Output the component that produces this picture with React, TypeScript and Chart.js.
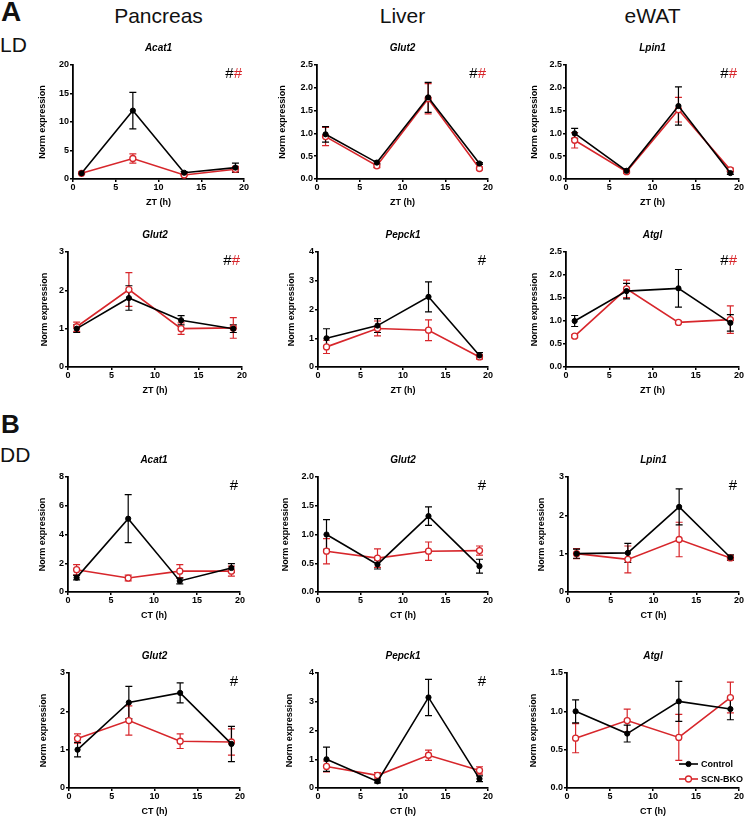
import React, { useEffect, useRef } from 'react';
import { Chart, registerables } from 'chart.js';

Chart.register(...registerables);

const FONT = "'Liberation Sans', Arial, Helvetica, sans-serif";
const BLACK = '#000000';
const RED = '#d7262b';

// ---------- data ----------
const TIMES = [1, 7, 13, 19];
const X_MIN = 0;
const X_MAX = 20;
const X_STEP = 5;

const TISSUES = ['Pancreas', 'Liver', 'eWAT'];
const SERIES_LABELS = ['Control', 'SCN-BKO'];
const PANEL_GENES = ['Acat1', 'Glut2', 'Lpin1', 'Glut2', 'Pepck1', 'Atgl', 'Acat1', 'Glut2', 'Lpin1', 'Glut2', 'Pepck1', 'Atgl'];
const PANEL_X_TITLES = ['ZT (h)', 'ZT (h)', 'ZT (h)', 'ZT (h)', 'ZT (h)', 'ZT (h)', 'CT (h)', 'CT (h)', 'CT (h)', 'CT (h)', 'CT (h)', 'CT (h)'];
const Y_TITLE = 'Norm expression';
const Y_MAX = [20, 2.5, 2.5, 3, 4, 2.5, 8, 2, 3, 3, 4, 1.5];
const Y_STEP = [5, 0.5, 0.5, 1, 1, 0.5, 2, 0.5, 1, 1, 1, 0.5];
const Y_DECIMALS = [0, 1, 1, 0, 0, 1, 0, 1, 0, 0, 0, 1];
const SIG_CONTROL = [true, true, true, true, true, true, true, true, true, true, true, false];
const SIG_BKO = [true, true, true, true, false, true, false, false, false, false, false, false];

const CONTROL_MEAN = [
  [1.0, 12.0, 1.1, 2.0],
  [0.98, 0.36, 1.79, 0.34],
  [1.0, 0.18, 1.6, 0.13],
  [1.0, 1.8, 1.22, 1.0],
  [1.0, 1.44, 2.44, 0.4],
  [1.0, 1.65, 1.71, 0.96],
  [1.0, 5.1, 0.77, 1.67],
  [1.0, 0.48, 1.32, 0.45],
  [1.0, 1.02, 2.22, 0.9],
  [1.0, 2.23, 2.48, 1.15],
  [1.0, 0.23, 3.15, 0.32],
  [1.0, 0.71, 1.13, 1.03],
];
const CONTROL_SEM = [
  [0.2, 3.2, 0.2, 0.8],
  [0.17, 0.03, 0.33, 0.02],
  [0.11, 0.04, 0.42, 0.03],
  [0.1, 0.32, 0.12, 0.1],
  [0.33, 0.24, 0.52, 0.1],
  [0.12, 0.17, 0.41, 0.18],
  [0.15, 1.67, 0.2, 0.3],
  [0.26, 0.08, 0.16, 0.12],
  [0.12, 0.25, 0.47, 0.07],
  [0.19, 0.42, 0.26, 0.46],
  [0.42, 0.05, 0.63, 0.1],
  [0.15, 0.11, 0.26, 0.14],
];
const BKO_MEAN = [
  [1.0, 3.6, 0.7, 1.7],
  [0.93, 0.29, 1.76, 0.23],
  [0.85, 0.16, 1.52, 0.2],
  [1.05, 2.02, 1.0, 1.02],
  [0.7, 1.34, 1.28, 0.35],
  [0.67, 1.7, 0.97, 1.03],
  [1.55, 0.97, 1.45, 1.45],
  [0.71, 0.59, 0.71, 0.72],
  [1.0, 0.85, 1.37, 0.89],
  [1.29, 1.76, 1.22, 1.2],
  [0.75, 0.44, 1.14, 0.61],
  [0.65, 0.88, 0.66, 1.18],
];
const BKO_SEM = [
  [0.1, 0.8, 0.1, 0.5],
  [0.2, 0.04, 0.33, 0.03],
  [0.17, 0.03, 0.27, 0.04],
  [0.12, 0.44, 0.15, 0.27],
  [0.23, 0.26, 0.36, 0.08],
  [0.03, 0.19, 0.03, 0.3],
  [0.35, 0.2, 0.45, 0.35],
  [0.22, 0.16, 0.16, 0.08],
  [0.13, 0.35, 0.45, 0.05],
  [0.12, 0.38, 0.19, 0.34],
  [0.19, 0.1, 0.18, 0.13],
  [0.19, 0.15, 0.3, 0.2],
];

// ---------- layout (page pixels) ----------
// [yTitleCenterX, axisX, plotRight, plotTop, plotBottom]
const PANEL_BOXES = [
  [42, 73, 244, 65, 179],
  [282, 317, 488, 65, 179],
  [534, 566, 739, 65, 179],
  [44, 68, 242, 252, 367],
  [291, 318, 488, 252, 367],
  [534, 566, 739, 252, 367],
  [42, 68, 240, 477, 592],
  [285, 318, 488, 477, 592],
  [541, 568, 739, 477, 592],
  [43, 69, 240, 673, 788],
  [289, 318, 488, 673, 788],
  [533, 567, 739, 673, 788],
];
const PAD_TOP = 30;
const PAD_RIGHT = 6;
const X_AXIS_H = 30;

// ---------- plugins ----------
const errorBarPlugin = {
  id: 'errorBars',
  beforeDatasetsDraw(chart: any) {
    const { ctx } = chart;
    const xs = chart.scales.x;
    const ys = chart.scales.y;
    for (let di = chart.data.datasets.length - 1; di >= 0; di--) {
      const ds = chart.data.datasets[di];
      const errs = ds.errors as number[];
      if (!errs) continue;
      ctx.save();
      ctx.strokeStyle = ds.borderColor;
      ctx.lineWidth = 1.2;
      ds.data.forEach((p: any, i: number) => {
        const x = xs.getPixelForValue(p.x);
        const yt = ys.getPixelForValue(p.y + errs[i]);
        const yb = ys.getPixelForValue(Math.max(0, p.y - errs[i]));
        ctx.beginPath();
        ctx.moveTo(x, yt);
        ctx.lineTo(x, yb);
        ctx.moveTo(x - 3.5, yt);
        ctx.lineTo(x + 3.5, yt);
        ctx.moveTo(x - 3.5, yb);
        ctx.lineTo(x + 3.5, yb);
        ctx.stroke();
      });
      ctx.restore();
    }
  },
};

const decorPlugin = {
  id: 'decor',
  afterDraw(chart: any, _args: any, opts: any) {
    const { ctx, chartArea } = chart;
    ctx.save();
    // gene title
    ctx.fillStyle = BLACK;
    ctx.font = `italic bold 10px ${FONT}`;
    ctx.textAlign = 'center';
    ctx.textBaseline = 'middle';
    ctx.fillText(opts.gene, (chartArea.left + chartArea.right) / 2, chartArea.top - 17);
    // significance marks
    ctx.font = `15px ${FONT}`;
    ctx.textAlign = 'right';
    let x = chartArea.right - 2;
    const y = chartArea.top + 9;
    if (opts.sigBko) {
      ctx.fillStyle = RED;
      ctx.fillText('#', x, y);
      x -= ctx.measureText('#').width;
    }
    if (opts.sigControl) {
      ctx.fillStyle = BLACK;
      ctx.fillText('#', x, y);
    }
    // legend
    if (opts.legend) {
      ctx.font = `bold 9px ${FONT}`;
      ctx.textAlign = 'left';
      chart.data.datasets.forEach((ds: any, i: number) => {
        const lx = chartArea.right - 60;
        const ly = chartArea.bottom - 24 + i * 15;
        ctx.strokeStyle = ds.borderColor;
        ctx.lineWidth = ds.borderWidth;
        ctx.beginPath();
        ctx.moveTo(lx, ly);
        ctx.lineTo(lx + 19, ly);
        ctx.stroke();
        ctx.beginPath();
        ctx.arc(lx + 9.5, ly, ds.pointRadius, 0, Math.PI * 2);
        ctx.fillStyle = ds.pointBackgroundColor;
        ctx.fill();
        ctx.lineWidth = ds.pointBorderWidth;
        ctx.strokeStyle = ds.pointBorderColor;
        ctx.stroke();
        ctx.fillStyle = BLACK;
        ctx.fillText(ds.label, lx + 22, ly + 0.5);
      });
    }
    ctx.restore();
  },
};

function Panel({ idx }: { idx: number }) {
  const ref = useRef<HTMLCanvasElement | null>(null);
  const [titleX, axisX, plotRight, plotTop, plotBottom] = PANEL_BOXES[idx];
  const left = Math.round(titleX - 5.4);
  const yWidth = axisX - left;
  const width = plotRight + PAD_RIGHT - left;
  const top = plotTop - PAD_TOP;
  const height = PAD_TOP + (plotBottom - plotTop) + X_AXIS_H;

  useEffect(() => {
    if (!ref.current) return;
    const tickFont = { family: FONT, size: 9, weight: 'bold' as const };
    const dec = Y_DECIMALS[idx];
    const chart = new Chart(ref.current, {
      type: 'line',
      data: {
        datasets: [
          {
            label: SERIES_LABELS[0],
            data: TIMES.map((t, i) => ({ x: t, y: CONTROL_MEAN[idx][i] })),
            errors: CONTROL_SEM[idx],
            borderColor: BLACK,
            backgroundColor: BLACK,
            borderWidth: 1.6,
            pointRadius: 2.6,
            pointBorderWidth: 1,
            pointBackgroundColor: BLACK,
            pointBorderColor: BLACK,
            tension: 0,
            clip: false,
          } as any,
          {
            label: SERIES_LABELS[1],
            data: TIMES.map((t, i) => ({ x: t, y: BKO_MEAN[idx][i] })),
            errors: BKO_SEM[idx],
            borderColor: RED,
            backgroundColor: RED,
            borderWidth: 1.6,
            pointRadius: 3,
            pointBorderWidth: 1.3,
            pointBackgroundColor: '#ffffff',
            pointBorderColor: RED,
            tension: 0,
            clip: false,
          } as any,
        ],
      },
      options: {
        responsive: false,
        animation: false,
        devicePixelRatio: 1,
        events: [],
        layout: { padding: { top: PAD_TOP, right: PAD_RIGHT, left: 0, bottom: 0 } },
        scales: {
          x: {
            type: 'linear',
            min: X_MIN,
            max: X_MAX,
            ticks: { stepSize: X_STEP, font: tickFont, color: BLACK, padding: 0, maxRotation: 0 },
            grid: { display: true, drawOnChartArea: false, drawTicks: true, tickLength: 3, color: BLACK, lineWidth: 1.5 },
            border: { display: true, color: BLACK, width: 1.8 },
            title: { display: true, text: PANEL_X_TITLES[idx], font: tickFont, color: BLACK, padding: { top: 0, bottom: 1 } },
            afterFit: (s: any) => { s.height = X_AXIS_H; },
          },
          y: {
            type: 'linear',
            min: 0,
            max: Y_MAX[idx],
            ticks: {
              stepSize: Y_STEP[idx],
              font: tickFont,
              color: BLACK,
              padding: 1,
              callback: (v: any) => Number(v).toFixed(dec),
            },
            grid: { display: true, drawOnChartArea: false, drawTicks: true, tickLength: 3, color: BLACK, lineWidth: 1.5 },
            border: { display: true, color: BLACK, width: 1.8 },
            title: { display: true, text: Y_TITLE, font: tickFont, color: BLACK, padding: { top: 0, bottom: 0 } },
            afterFit: (s: any) => { s.width = yWidth; },
          },
        },
        plugins: {
          legend: { display: false },
          tooltip: { enabled: false },
          decor: {
            gene: PANEL_GENES[idx],
            sigControl: SIG_CONTROL[idx],
            sigBko: SIG_BKO[idx],
            legend: idx === 11,
          },
        } as any,
      },
      plugins: [errorBarPlugin, decorPlugin],
    } as any);
    return () => chart.destroy();
  }, [idx]);

  return (
    <canvas
      ref={ref}
      width={width}
      height={height}
      style={{ position: 'absolute', left, top, width, height }}
    />
  );
}

function Text({ text, x, baseline, size, bold, center }: { text: string; x: number; baseline: number; size: number; bold?: boolean; center?: boolean }) {
  const top = baseline - 0.8465 * size;
  return (
    <span
      style={{
        position: 'absolute',
        left: x,
        top,
        fontFamily: FONT,
        fontSize: size,
        lineHeight: `${size}px`,
        fontWeight: bold ? 'bold' : 'normal',
        whiteSpace: 'nowrap',
        color: '#111',
        transform: center ? 'translateX(-50%)' : undefined,
      }}
    >
      {text}
    </span>
  );
}

export default function App() {
  const colCenters = [0, 1, 2].map((c) => (PANEL_BOXES[c][1] + PANEL_BOXES[c][2]) / 2);
  return (
    <div style={{ position: 'absolute', left: 0, top: 0, width: 745, height: 818, overflow: 'hidden', background: '#fff' }}>
      <Text text="A" x={1} baseline={22} size={28} bold />
      <Text text="LD" x={0} baseline={51.5} size={21} />
      <Text text="B" x={1} baseline={433} size={26} bold />
      <Text text="DD" x={0} baseline={461.5} size={21} />
      {TISSUES.map((t, i) => (
        <Text key={t} text={t} x={colCenters[i]} baseline={22.5} size={21} center />
      ))}
      {PANEL_GENES.map((_, i) => (
        <Panel key={i} idx={i} />
      ))}
    </div>
  );
}
